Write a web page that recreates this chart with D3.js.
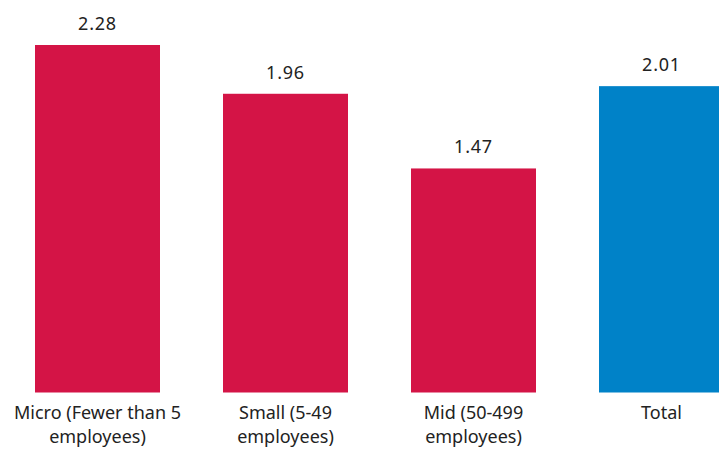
<!DOCTYPE html>
<html>
<head>
<meta charset="utf-8">
<script src="https://cdn.jsdelivr.net/npm/d3@7"></script>
<style>
  html, body { margin: 0; padding: 0; background: #fff; }
  svg { display: block; }
  text { font-family: "Noto Sans", "Open Sans", sans-serif; fill: #222; }
</style>
</head>
<body>
<svg id="chart" width="719" height="449"></svg>
<script>
// Average score by company size
const categories = ["Micro (Fewer than 5 employees)", "Small (5-49 employees)", "Mid (50-499 employees)", "Total"];
const labelLines = [["Micro (Fewer than 5", "employees)"], ["Small (5-49", "employees)"], ["Mid (50-499", "employees)"], ["Total"]];
const values = [2.28, 1.96, 1.47, 2.01];
const barColors = ["#D41446", "#D41446", "#D41446", "#0082C8"];

const svg = d3.select("#chart");

const x = d3.scaleBand()
  .domain(categories)
  .range([35, 724])
  .paddingInner(63 / 188)
  .paddingOuter(0);

const y = d3.scaleLinear()
  .domain([0, 2.28])
  .range([392.5, 45]);

// Bars
svg.append("g")
  .selectAll("rect")
  .data(values)
  .join("rect")
  .attr("x", (d, i) => x(categories[i]))
  .attr("y", d => y(d))
  .attr("width", x.bandwidth())
  .attr("height", d => y(0) - y(d))
  .attr("fill", (d, i) => barColors[i]);

// Value labels
svg.append("g")
  .selectAll("text")
  .data(values)
  .join("text")
  .attr("x", (d, i) => x(categories[i]) + x.bandwidth() / 2)
  .attr("y", d => y(d) - 15)
  .attr("text-anchor", "middle")
  .style("font-size", "18px")
  .style("letter-spacing", "0.8px")
  .text(d => d.toFixed(2));

// Category labels
const cat = svg.append("g")
  .selectAll("text")
  .data(categories)
  .join("text")
  .attr("x", d => x(d) + x.bandwidth() / 2)
  .attr("y", 419)
  .attr("text-anchor", "middle")
  .style("font-size", "18px");

cat.selectAll("tspan")
  .data((d, i) => labelLines[i])
  .join("tspan")
  .attr("x", function () { return d3.select(this.parentNode).attr("x"); })
  .attr("dy", (d, j) => j === 0 ? 0 : 24)
  .text(d => d);
</script>
</body>
</html>
